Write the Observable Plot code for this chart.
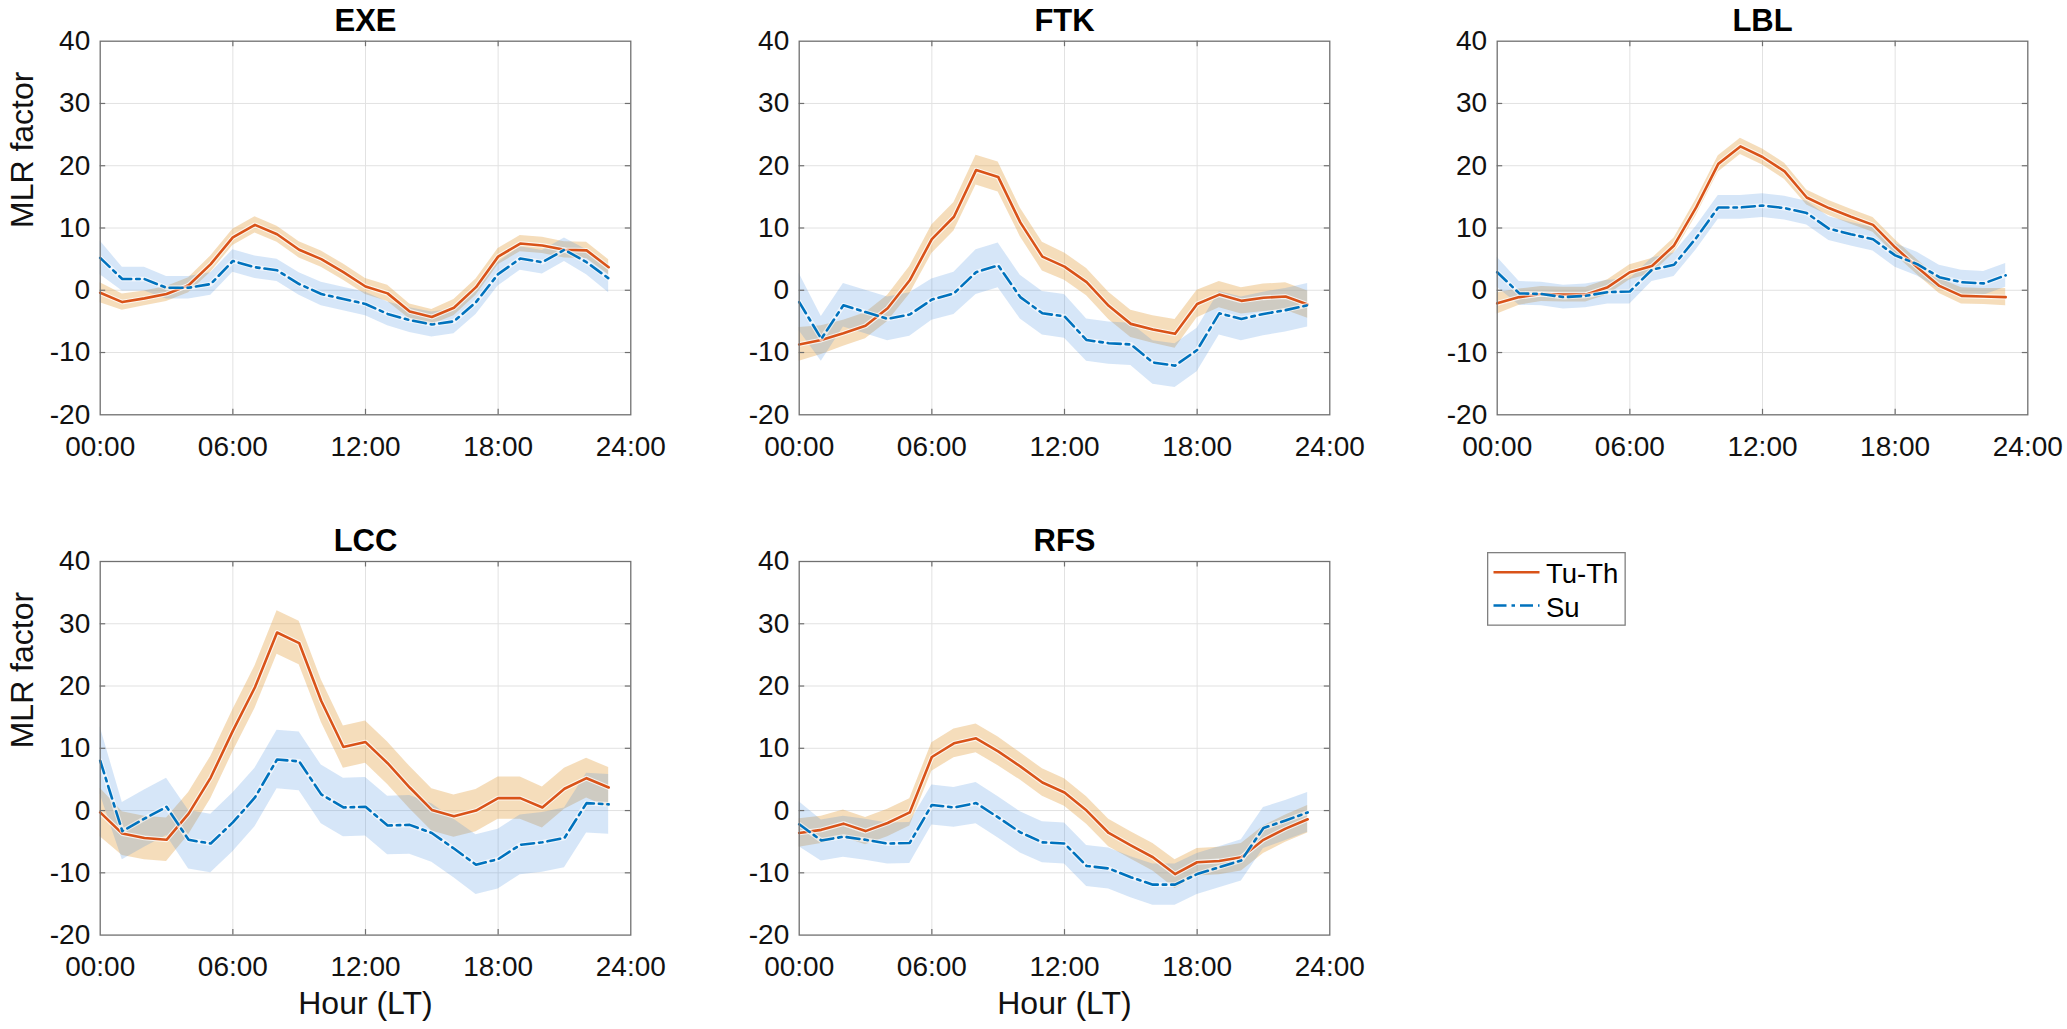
<!DOCTYPE html>
<html>
<head>
<meta charset="utf-8">
<script src="https://cdn.jsdelivr.net/npm/d3@7"></script>
<script src="https://cdn.jsdelivr.net/npm/@observablehq/plot@0.6"></script>
<style>
  html, body { margin: 0; padding: 0; background: #fff; }
  #chart { position: relative; width: 2067px; height: 1029px; overflow: hidden; background: #fff;
           font-family: "Liberation Sans", Arial, Helvetica, sans-serif; }
  .cell { position: absolute; }
  #legend { position: absolute; left: 1487px; top: 552px; }
</style>
</head>
<body>
<div id="chart"></div>
<script>
// ---------------- data ----------------
const hours = [0,1,2,3,4,5,6,7,8,9,10,11,12,13,14,15,16,17,18,19,20,21,22,23];
const xTicks = [0, 6, 12, 18, 24];
const xTickLabels = ["00:00", "06:00", "12:00", "18:00", "24:00"];
const yTicks = [-20, -10, 0, 10, 20, 30, 40];
const yTickLabels = ["-20", "-10", "0", "10", "20", "30", "40"];
const seriesNames = ["Tu-Th", "Su"];
const stations = ["EXE", "FTK", "LBL", "LCC", "RFS"];

const exeTuTh    = [-0.4,-1.9,-1.3,-0.6,0.8,4.2,8.5,10.5,9.0,6.5,5.0,2.9,0.6,-0.5,-3.4,-4.3,-2.8,0.5,5.4,7.5,7.2,6.5,6.4,3.7];
const exeTuThErr = [1.6,1.3,1.2,1.2,1.2,1.3,1.3,1.3,1.3,1.3,1.3,1.3,1.3,1.3,1.2,1.2,1.3,1.3,1.3,1.3,1.3,1.3,1.3,1.2];
const exeSu      = [5.2,1.8,1.8,0.4,0.4,1.0,4.7,3.7,3.2,1.0,-0.6,-1.4,-2.2,-3.8,-4.8,-5.5,-5.0,-1.9,2.6,5.1,4.5,6.5,4.5,1.9];
const exeSuErr   = [2.7,1.9,1.9,1.8,1.8,1.8,1.8,1.8,1.8,1.8,1.9,1.9,1.9,1.9,2.0,2.0,2.0,2.0,1.9,1.9,1.9,1.9,2.0,2.3];

const ftkTuTh    = [-8.7,-8.0,-6.9,-5.7,-2.9,1.6,8.2,11.8,19.3,18.2,10.9,5.4,3.8,1.3,-2.5,-5.4,-6.3,-7.0,-2.2,-0.7,-1.7,-1.2,-1.0,-2.3];
const ftkTuThErr = [2.7,2.3,2.1,2.1,2.1,2.2,2.3,2.3,2.4,2.4,2.3,2.3,2.2,2.2,2.2,2.2,2.2,2.3,2.2,2.1,2.1,2.2,2.2,2.2];
const ftkSu      = [-1.9,-7.8,-2.4,-3.5,-4.6,-3.9,-1.5,-0.5,2.9,4.0,-1.1,-3.7,-4.2,-8.0,-8.5,-8.7,-11.6,-12.1,-9.6,-3.7,-4.6,-3.8,-3.2,-2.4];
const ftkSuErr   = [4.6,3.6,3.5,3.5,3.5,3.5,3.3,3.4,3.6,3.6,3.5,3.5,3.5,3.4,3.4,3.4,3.5,3.5,3.5,3.5,3.5,3.5,3.5,3.5];

const lblTuTh    = [-2.1,-1.1,-0.6,-0.7,-0.7,0.5,2.9,3.9,7.2,13.3,20.3,23.1,21.4,19.1,14.9,13.2,11.8,10.5,6.9,3.7,0.7,-0.9,-1.0,-1.1];
const lblTuThErr = [1.7,1.3,1.2,1.2,1.2,1.2,1.2,1.2,1.2,1.3,1.3,1.3,1.3,1.3,1.2,1.2,1.2,1.2,1.2,1.2,1.2,1.3,1.3,1.4];
const lblSu      = [2.9,-0.5,-0.6,-1.1,-0.9,-0.3,-0.2,3.3,4.1,8.4,13.3,13.3,13.6,13.2,12.4,9.9,9.0,8.2,5.6,4.2,2.1,1.3,1.1,2.4];
const lblSuErr   = [2.4,1.9,1.9,1.9,1.9,1.9,2.0,1.9,1.9,1.9,1.9,1.9,1.9,1.9,1.9,1.9,1.9,1.9,1.9,1.9,1.9,1.9,1.9,1.9];

const lccTuTh    = [-0.3,-3.7,-4.4,-4.7,-0.5,5.3,12.8,19.8,28.6,26.9,17.6,10.2,11.0,7.6,3.7,0.1,-0.9,0.0,2.0,2.0,0.5,3.5,5.2,3.7];
const lccTuThErr = [3.9,3.5,3.5,3.5,3.4,3.4,3.4,3.4,3.5,3.5,3.4,3.4,3.4,3.4,3.4,3.4,3.4,3.4,3.4,3.4,3.3,3.3,3.2,3.2];
const lccSu      = [8.0,-3.3,-1.3,0.6,-4.7,-5.3,-1.9,2.1,8.2,7.9,2.6,0.5,0.6,-2.4,-2.3,-3.6,-6.1,-8.7,-7.8,-5.5,-5.1,-4.4,1.2,1.0];
const lccSuErr   = [5.4,4.6,4.6,4.6,4.7,4.7,4.7,4.7,4.7,4.7,4.7,4.7,4.7,4.7,4.7,4.7,4.7,4.8,4.8,4.8,4.8,4.8,4.8,4.8];

const rfsTuTh    = [-3.6,-3.1,-2.1,-3.3,-2.0,-0.3,8.6,10.8,11.6,9.5,7.1,4.5,2.9,0.0,-3.6,-5.6,-7.5,-10.2,-8.3,-8.1,-7.5,-4.7,-2.9,-1.4];
const rfsTuThErr = [2.3,2.2,2.2,2.2,2.2,2.2,2.3,2.3,2.3,2.3,2.2,2.2,2.2,2.2,2.2,2.2,2.2,2.3,2.2,2.2,2.2,2.2,2.2,2.2];
const rfsSu      = [-2.2,-4.8,-4.2,-4.7,-5.3,-5.2,0.9,0.5,1.2,-1.1,-3.5,-5.1,-5.3,-8.9,-9.3,-10.7,-11.9,-11.9,-10.2,-9.1,-8.0,-2.8,-1.6,-0.3];
const rfsSuErr   = [3.6,3.3,3.3,3.3,3.3,3.3,3.2,3.2,3.3,3.3,3.3,3.3,3.3,3.3,3.3,3.3,3.3,3.3,3.3,3.3,3.3,3.3,3.2,3.2];

// ---------------- layout / style ----------------
const FONT = "'Liberation Sans', Arial, Helvetica, sans-serif";
const RED = "#D95319", BLUE = "#0072BD";
const BAND_RED = "#E6A54B", BAND_BLUE = "#3C87DD";
const FRAME = "#707070", GRID = "#e2e2e2";
const FX = [99.7, 798.6, 1496.7], FY = [40.7, 561];
const W = 530.6, H = 373.6, ML = 99.7;
const TL = 5.5; // inward tick length

const panels = [
  {name: stations[0], r: 0, c: 0, t: exeTuTh, te: exeTuThErr, s: exeSu, se: exeSuErr},
  {name: stations[1], r: 0, c: 1, t: ftkTuTh, te: ftkTuThErr, s: ftkSu, se: ftkSuErr},
  {name: stations[2], r: 0, c: 2, t: lblTuTh, te: lblTuThErr, s: lblSu, se: lblSuErr},
  {name: stations[3], r: 1, c: 0, t: lccTuTh, te: lccTuThErr, s: lccSu, se: lccSuErr},
  {name: stations[4], r: 1, c: 1, t: rfsTuTh, te: rfsTuThErr, s: rfsSu, se: rfsSuErr}
];

const chart = document.getElementById("chart");
const inner = xTicks.slice(1, -1);
const innerY = yTicks.slice(1, -1);

for (const p of panels) {
  const rows = hours.map((h, i) => ({
    h, t: p.t[i], tlo: p.t[i] - p.te[i], thi: p.t[i] + p.te[i],
    s: p.s[i], slo: p.s[i] - p.se[i], shi: p.s[i] + p.se[i]
  }));
  const left = FX[p.c] - ML;
  const top = p.r === 0 ? 0 : 520;
  const width = p.c < 2 ? 698.9 : 2067 - left;
  const height = p.r === 0 ? 520 : 509;
  const marginTop = FY[p.r] - top;
  const marginRight = width - ML - W;
  const marginBottom = height - marginTop - H;

  const marks = [
    Plot.ruleX(inner, {x: d => d, stroke: GRID, strokeWidth: 1}),
    Plot.ruleY(innerY, {y: d => d, stroke: GRID, strokeWidth: 1}),
    Plot.areaY(rows, {x: "h", y1: "tlo", y2: "thi", fill: BAND_RED, fillOpacity: 0.38}),
    Plot.areaY(rows, {x: "h", y1: "slo", y2: "shi", fill: BAND_BLUE, fillOpacity: 0.21}),
    Plot.line(rows, {x: "h", y: "t", stroke: "white", strokeWidth: 4.8, strokeOpacity: 0.75}),
    Plot.line(rows, {x: "h", y: "t", stroke: RED, strokeWidth: 2.6}),
    Plot.line(rows, {x: "h", y: "s", stroke: "white", strokeWidth: 4.8, strokeOpacity: 0.6}),
    Plot.line(rows, {x: "h", y: "s", stroke: BLUE, strokeWidth: 2.6, strokeDasharray: "13,5,3.5,5"}),
    Plot.frame({stroke: FRAME, strokeWidth: 1.3}),
    Plot.tickY(innerY, {y: d => d, stroke: FRAME, strokeWidth: 1.2, insetRight: W - TL}),
    Plot.tickY(innerY, {y: d => d, stroke: FRAME, strokeWidth: 1.2, insetLeft: W - TL}),
    Plot.tickX(inner, {x: d => d, stroke: FRAME, strokeWidth: 1.2, insetBottom: H - TL}),
    Plot.tickX(inner, {x: d => d, stroke: FRAME, strokeWidth: 1.2, insetTop: H - TL}),
    Plot.axisX(xTicks, {anchor: "bottom", tickSize: 0, tickPadding: 21, fontSize: 28, label: null,
      tickFormat: d => xTickLabels[xTicks.indexOf(d)]}),
    Plot.axisY(yTicks, {anchor: "left", tickSize: 0, tickPadding: 10, fontSize: 28, label: null,
      tickFormat: d => yTickLabels[yTicks.indexOf(d)]}),
    Plot.text([p.name], {text: d => d, frameAnchor: "top", dy: -10, lineAnchor: "bottom",
      fontSize: 31, fontWeight: "bold", fill: "#000"})
  ];
  if (p.c === 0) {
    marks.push(Plot.text(["MLR factor"], {text: d => d, frameAnchor: "left", rotate: -90,
      dx: -(ML - 32), lineAnchor: "bottom", fontSize: 32, fill: "#111"}));
  }
  if (p.r === 1) {
    marks.push(Plot.text(["Hour (LT)"], {text: d => d, frameAnchor: "bottom", dy: 78.7,
      lineAnchor: "bottom", fontSize: 32, fill: "#111"}));
  }

  const svg = Plot.plot({
    width, height, marginLeft: ML, marginRight, marginTop, marginBottom,
    style: {fontFamily: FONT, background: "transparent", overflow: "visible", maxWidth: "none", color: "#111"},
    x: {domain: [0, 24], axis: null},
    y: {domain: [-20, 40], axis: null},
    marks
  });
  const cell = document.createElement("div");
  cell.className = "cell";
  cell.style.left = left + "px";
  cell.style.top = top + "px";
  cell.style.width = width + "px";
  cell.style.height = height + "px";
  cell.appendChild(svg);
  chart.appendChild(cell);
}

// ---------------- legend ----------------
const ns = "http://www.w3.org/2000/svg";
const lg = document.createElementNS(ns, "svg");
lg.setAttribute("id", "legend");
lg.setAttribute("width", 139);
lg.setAttribute("height", 74);
lg.style.position = "absolute";
lg.style.left = "1486.5px";
lg.style.top = "551.5px";
lg.innerHTML = `
  <rect x="0.65" y="0.65" width="137.5" height="72.5" fill="white" stroke="#808080" stroke-width="1.3"/>
  <line x1="6.5" x2="52.5" y1="20.2" y2="20.2" stroke="${RED}" stroke-width="2.6"/>
  <text x="59" y="31" font-family="${FONT}" font-size="27.5" fill="#000">${seriesNames[0]}</text>
  <line x1="6.5" x2="52.5" y1="53.5" y2="53.5" stroke="${BLUE}" stroke-width="2.6" stroke-dasharray="13,5,3.5,5"/>
  <text x="59" y="65" font-family="${FONT}" font-size="27.5" fill="#000">${seriesNames[1]}</text>`;
chart.appendChild(lg);
</script>
</body>
</html>
